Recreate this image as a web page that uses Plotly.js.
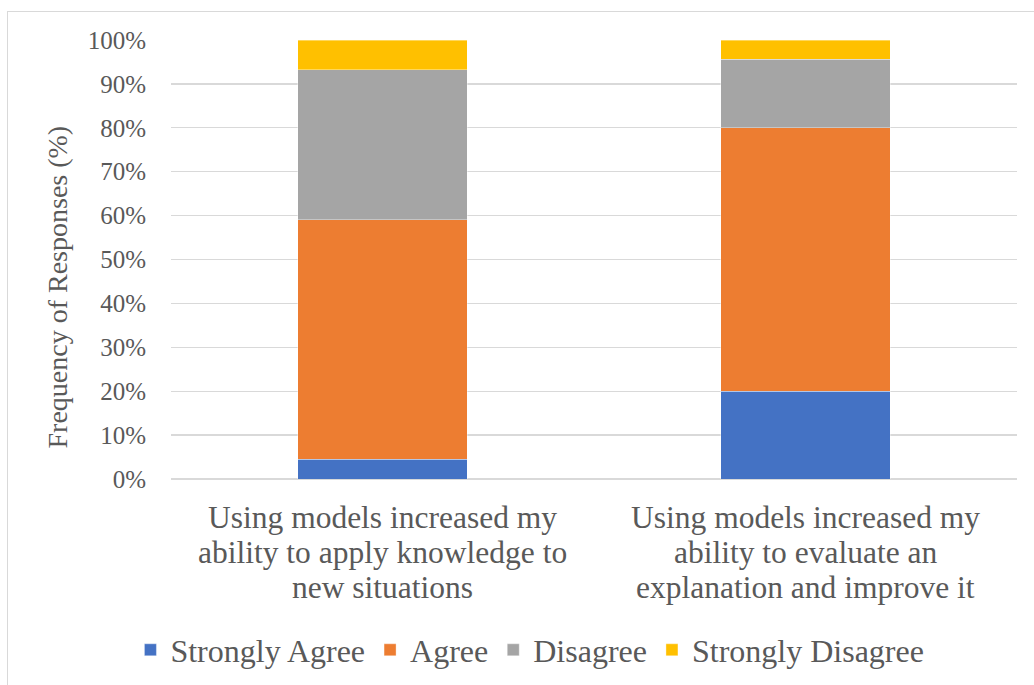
<!DOCTYPE html>
<html>
<head>
<meta charset="utf-8">
<script src="https://cdn.plot.ly/plotly-3.0.1.min.js"></script>
<style>
  html, body { margin: 0; padding: 0; width: 1034px; height: 685px; overflow: hidden; background: #ffffff; }
  #frame { position: absolute; left: 7px; top: 11px; width: 1040px; height: 690px; border: 1px solid #d9d9d9; box-sizing: border-box; }
  #chart { position: absolute; left: 0; top: 0; width: 1034px; height: 685px; }
</style>
</head>
<body>
<div id="frame"></div>
<div id="chart"></div>
<script>
// ---- Data ----
const categories = [
  "Using models increased my ability to apply knowledge to new situations",
  "Using models increased my ability to evaluate an explanation and improve it"
];
const categoryLines = [
  ["Using models increased my", "ability to apply knowledge to", "new situations"],
  ["Using models increased my", "ability to evaluate an", "explanation and improve it"]
];
const seriesNames = ["Strongly Agree", "Agree", "Disagree", "Strongly Disagree"];
const stronglyAgree    = [4.55, 20.0];
const agree            = [54.55, 60.0];
const disagree         = [34.09, 15.56];
const stronglyDisagree = [6.81, 4.44];
const yTitle = "Frequency of Responses (%)";

// ---- Styling ----
const colors = ["#4472C4", "#ED7D31", "#A5A5A5", "#FFC000"];
const textColor = "#595959";
const fontFamily = "Liberation Serif";
const W = 1034, H = 685;
const M = { l: 171, r: 17, t: 40, b: 206 };
const plotW = W - M.l - M.r, plotH = H - M.t - M.b;

const seriesValues = [stronglyAgree, agree, disagree, stronglyDisagree];
const traces = seriesNames.map((name, i) => ({
  type: "bar",
  name: name,
  x: categories,
  y: seriesValues[i],
  marker: { color: colors[i], line: { color: "rgba(255,255,255,0.6)", width: 0.6 } },
  hoverinfo: "name+y"
}));

// Category labels (three lines each, tighter line spacing as in reference)
const annotations = [];
const lineSpacing = 35, firstLineOffset = 38;
categoryLines.forEach((lines, ci) => {
  lines.forEach((ln, li) => {
    annotations.push({
      xref: "x", yref: "paper", x: categories[ci], y: 0,
      yanchor: "middle", xanchor: "center",
      yshift: -(firstLineOffset + li * lineSpacing),
      text: ln, showarrow: false,
      font: { family: fontFamily, size: 31.5, color: textColor }
    });
  });
});
// Y-axis title
annotations.push({
  xref: "paper", yref: "paper",
  x: (56.5 - M.l) / plotW, y: (H - M.b - 287) / plotH,
  xanchor: "center", yanchor: "middle",
  textangle: -90, text: yTitle, showarrow: false,
  font: { family: fontFamily, size: 28, color: textColor }
});

const layout = {
  width: W, height: H,
  margin: M,
  paper_bgcolor: "rgba(0,0,0,0)",
  plot_bgcolor: "rgba(0,0,0,0)",
  barmode: "stack",
  bargap: 0.6,
  font: { family: fontFamily, color: textColor },
  xaxis: {
    type: "category",
    showticklabels: false,
    showgrid: false,
    zeroline: false,
    showline: false,
    ticks: ""
  },
  yaxis: {
    range: [0, 100],
    dtick: 10,
    ticksuffix: "%",
    showgrid: true,
    gridcolor: "#d9d9d9",
    gridwidth: 1.3,
    zeroline: true,
    zerolinecolor: "#d9d9d9",
    zerolinewidth: 1.3,
    showline: false,
    ticks: "",
    ticklabelstandoff: 24,
    tickfont: { family: fontFamily, size: 25, color: textColor }
  },
  showlegend: true,
  legend: {
    orientation: "h",
    xref: "container", yref: "container",
    x: 0.5125, xanchor: "center",
    y: 1 - 650 / H, yanchor: "middle",
    traceorder: "normal",
    font: { family: fontFamily, size: 32, color: textColor },
    itemwidth: 30,
    bgcolor: "rgba(0,0,0,0)"
  },
  annotations: annotations
};

Plotly.newPlot("chart", traces, layout, { displayModeBar: false, staticPlot: true });
</script>
</body>
</html>
